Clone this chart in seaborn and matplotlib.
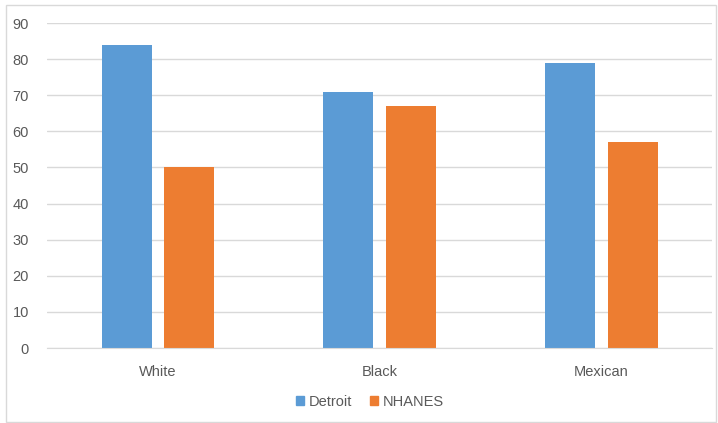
import seaborn as sns
import matplotlib.pyplot as plt
import pandas as pd
from matplotlib.patches import Rectangle

groups = ['White', 'Black', 'Mexican']
detroit = [84, 71, 79]
nhanes = [50, 67, 57]
series = ['Detroit', 'NHANES']
colors = ['#5B9BD5', '#ED7D31']

df = pd.DataFrame({
    'group': groups * 2,
    'value': detroit + nhanes,
    'source': ['Detroit'] * 3 + ['NHANES'] * 3,
})

sns.set_style('white')
plt.rcParams['font.family'] = ['Liberation Sans', 'DejaVu Sans']
text_color = '#595959'

fig = plt.figure(figsize=(7.18, 4.23), dpi=100)
ax = fig.add_axes([0.0655, 0.1773, 0.9265, 0.7683])

sns.barplot(data=df, x='group', y='value', hue='source', order=groups,
            hue_order=series, palette=colors, width=0.564, gap=0.2,
            saturation=1, linewidth=0, ax=ax, legend=False)

ax.set_ylim(0, 90)
ax.set_xlim(-0.5, 2.5)
ax.set_yticks(range(0, 91, 10))
ax.yaxis.grid(True, color='#D9D9D9', linewidth=1)
ax.set_axisbelow(True)
for side in ['left', 'right', 'top']:
    ax.spines[side].set_visible(False)
ax.spines['bottom'].set_color('#D9D9D9')
ax.tick_params(axis='both', length=0, colors=text_color, labelsize=10.5)
ax.tick_params(axis='x', pad=12)
ax.tick_params(axis='y', pad=13)
ax.set_xlabel('')
ax.set_ylabel('')

handles = [Rectangle((0, 0), 1, 1, color=c) for c in colors]
fig.legend(handles, series, loc='center', bbox_to_anchor=(0.515, 0.05),
           ncol=2, frameon=False, fontsize=10.5, labelcolor=text_color,
           handlelength=0.6, handleheight=0.6, handletextpad=0.3,
           columnspacing=1.2)

fig.patches.append(Rectangle((0.009, 0.002), 0.988, 0.985, transform=fig.transFigure,
                             fill=False, edgecolor='#D9D9D9', linewidth=1))

fig.savefig('out.png', dpi=100)
